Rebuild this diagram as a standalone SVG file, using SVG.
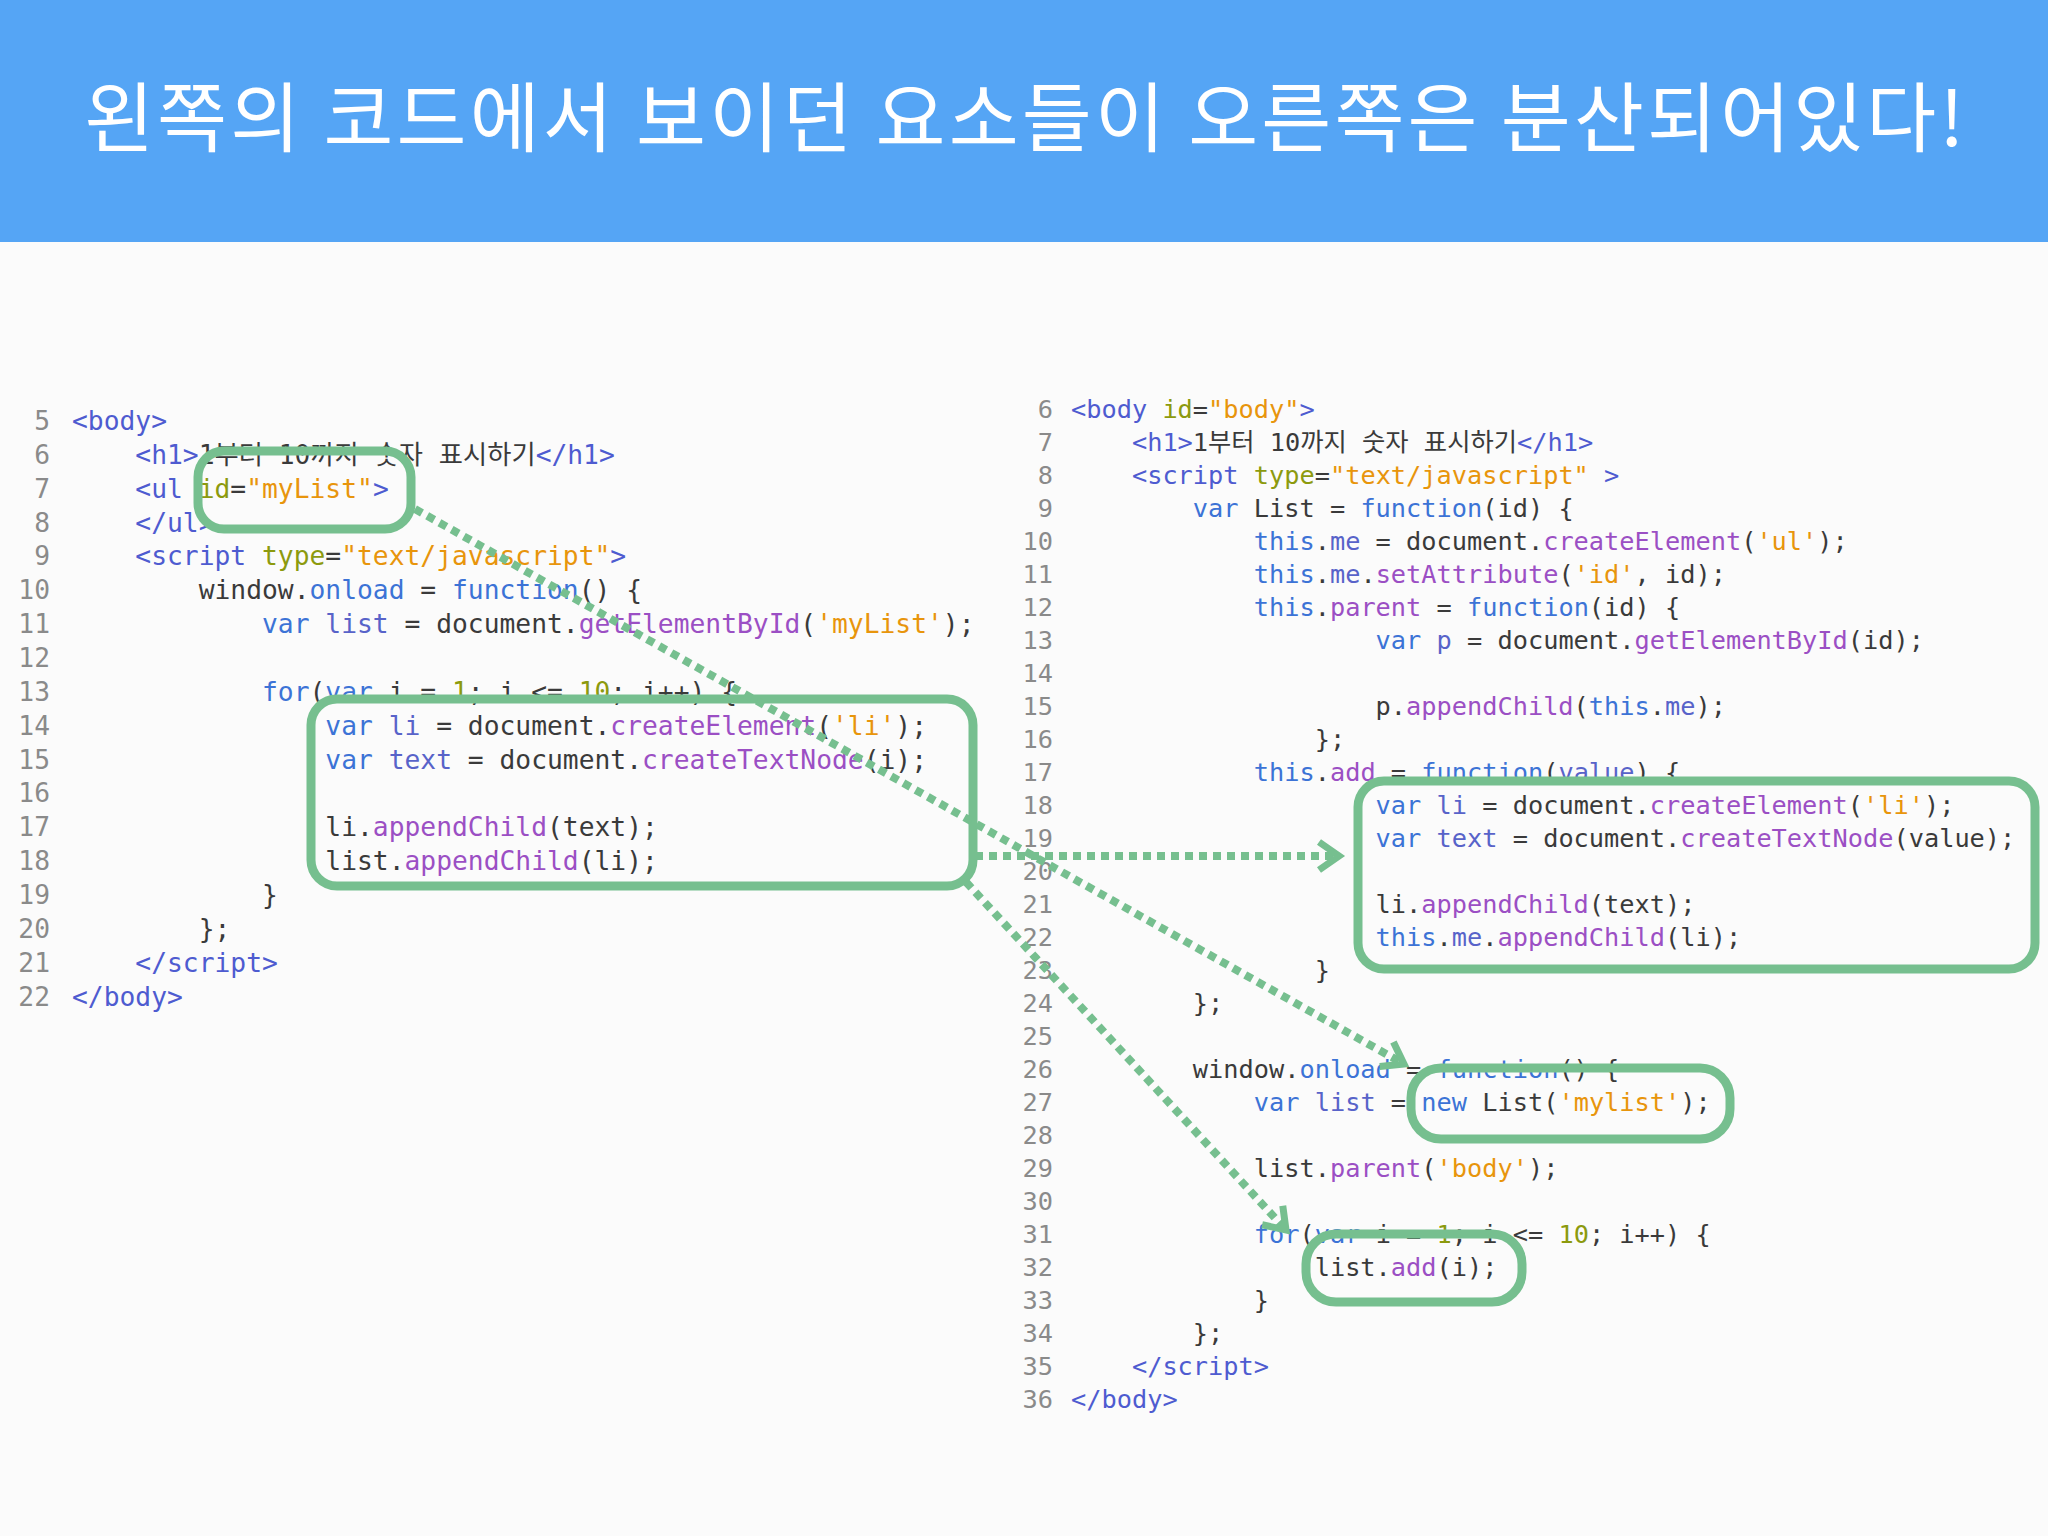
<svg xmlns="http://www.w3.org/2000/svg" width="2048" height="1536" viewBox="0 0 2048 1536">
<style>
.code{font-family:"DejaVu Sans Mono","Noto Sans CJK KR",monospace;fill:#3a3a3a;white-space:pre}
.L{font-size:26.3px}.R{font-size:25.3px}
.ln{font-family:"DejaVu Sans Mono",monospace;fill:#8a8a8a;text-anchor:end}
.t{fill:#4e5bd0}.a{fill:#8c9a0e}.s{fill:#e8950c}.k{fill:#3c73d6}.m{fill:#9b4fc4}.v{fill:#5863c9}.n{fill:#8c9a0e}
.box{fill:none;stroke:#76bf8f;stroke-width:9}
.arr{fill:none;stroke:#76bf8f;stroke-width:8;stroke-dasharray:8 6}
</style>
<defs>
<marker id="ah" markerUnits="userSpaceOnUse" markerWidth="40" markerHeight="40" refX="30" refY="20" orient="auto">
<polyline points="10,6 30,20 10,34" fill="none" stroke="#76bf8f" stroke-width="7"/>
</marker>
</defs>
<rect width="2048" height="1536" fill="#fbfbfb"/>
<g id="header">
<rect width="2048" height="242" fill="#55a5f5"/>
<text x="1024" y="146" text-anchor="middle" textLength="1880" font-family="'Noto Sans CJK KR',sans-serif" font-size="76" fill="#ffffff">왼쪽의 코드에서 보이던 요소들이 오른쪽은 분산되어있다!</text>
</g>
<g id="left-code" xml:space="preserve">
<text class="ln L" x="50" y="430">5</text><text class="code L" x="72" y="430"><tspan class="t">&lt;body&gt;</tspan></text>
<text class="ln L" x="50" y="464">6</text><text class="code L" x="72" y="464">    <tspan class="t">&lt;h1&gt;</tspan>1부터 10까지 숫자 표시하기<tspan class="t">&lt;/h1&gt;</tspan></text>
<text class="ln L" x="50" y="498">7</text><text class="code L" x="72" y="498">    <tspan class="t">&lt;ul</tspan> <tspan class="a">id</tspan>=<tspan class="s">"myList"</tspan><tspan class="t">&gt;</tspan></text>
<text class="ln L" x="50" y="532">8</text><text class="code L" x="72" y="532">    <tspan class="t">&lt;/ul&gt;</tspan></text>
<text class="ln L" x="50" y="565">9</text><text class="code L" x="72" y="565">    <tspan class="t">&lt;script</tspan> <tspan class="a">type</tspan>=<tspan class="s">"text/javascript"</tspan><tspan class="t">&gt;</tspan></text>
<text class="ln L" x="50" y="599">10</text><text class="code L" x="72" y="599">        window.<tspan class="k">onload</tspan> = <tspan class="k">function</tspan>() {</text>
<text class="ln L" x="50" y="633">11</text><text class="code L" x="72" y="633">            <tspan class="k">var</tspan> <tspan class="v">list</tspan> = document.<tspan class="m">getElementById</tspan>(<tspan class="s">'myList'</tspan>);</text>
<text class="ln L" x="50" y="667">12</text>
<text class="ln L" x="50" y="701">13</text><text class="code L" x="72" y="701">            <tspan class="k">for</tspan>(<tspan class="k">var</tspan> i = <tspan class="n">1</tspan>; i &lt;= <tspan class="n">10</tspan>; i++) {</text>
<text class="ln L" x="50" y="735">14</text><text class="code L" x="72" y="735">                <tspan class="k">var</tspan> <tspan class="v">li</tspan> = document.<tspan class="m">createElement</tspan>(<tspan class="s">'li'</tspan>);</text>
<text class="ln L" x="50" y="769">15</text><text class="code L" x="72" y="769">                <tspan class="k">var</tspan> <tspan class="v">text</tspan> = document.<tspan class="m">createTextNode</tspan>(i);</text>
<text class="ln L" x="50" y="802">16</text>
<text class="ln L" x="50" y="836">17</text><text class="code L" x="72" y="836">                li.<tspan class="m">appendChild</tspan>(text);</text>
<text class="ln L" x="50" y="870">18</text><text class="code L" x="72" y="870">                list.<tspan class="m">appendChild</tspan>(li);</text>
<text class="ln L" x="50" y="904">19</text><text class="code L" x="72" y="904">            }</text>
<text class="ln L" x="50" y="938">20</text><text class="code L" x="72" y="938">        };</text>
<text class="ln L" x="50" y="972">21</text><text class="code L" x="72" y="972">    <tspan class="t">&lt;/script&gt;</tspan></text>
<text class="ln L" x="50" y="1006">22</text><text class="code L" x="72" y="1006"><tspan class="t">&lt;/body&gt;</tspan></text>
</g>
<g id="right-code" xml:space="preserve">
<text class="ln R" x="1053" y="418">6</text><text class="code R" x="1071" y="418"><tspan class="t">&lt;body</tspan> <tspan class="a">id</tspan>=<tspan class="s">"body"</tspan><tspan class="t">&gt;</tspan></text>
<text class="ln R" x="1053" y="451">7</text><text class="code R" x="1071" y="451">    <tspan class="t">&lt;h1&gt;</tspan>1부터 10까지 숫자 표시하기<tspan class="t">&lt;/h1&gt;</tspan></text>
<text class="ln R" x="1053" y="484">8</text><text class="code R" x="1071" y="484">    <tspan class="t">&lt;script</tspan> <tspan class="a">type</tspan>=<tspan class="s">"text/javascript"</tspan> <tspan class="t">&gt;</tspan></text>
<text class="ln R" x="1053" y="517">9</text><text class="code R" x="1071" y="517">        <tspan class="k">var</tspan> List = <tspan class="k">function</tspan>(id) {</text>
<text class="ln R" x="1053" y="550">10</text><text class="code R" x="1071" y="550">            <tspan class="k">this</tspan>.<tspan class="v">me</tspan> = document.<tspan class="m">createElement</tspan>(<tspan class="s">'ul'</tspan>);</text>
<text class="ln R" x="1053" y="583">11</text><text class="code R" x="1071" y="583">            <tspan class="k">this</tspan>.<tspan class="v">me</tspan>.<tspan class="m">setAttribute</tspan>(<tspan class="s">'id'</tspan>, id);</text>
<text class="ln R" x="1053" y="616">12</text><text class="code R" x="1071" y="616">            <tspan class="k">this</tspan>.<tspan class="m">parent</tspan> = <tspan class="k">function</tspan>(id) {</text>
<text class="ln R" x="1053" y="649">13</text><text class="code R" x="1071" y="649">                    <tspan class="k">var</tspan> <tspan class="v">p</tspan> = document.<tspan class="m">getElementById</tspan>(id);</text>
<text class="ln R" x="1053" y="682">14</text>
<text class="ln R" x="1053" y="715">15</text><text class="code R" x="1071" y="715">                    p.<tspan class="m">appendChild</tspan>(<tspan class="k">this</tspan>.<tspan class="v">me</tspan>);</text>
<text class="ln R" x="1053" y="748">16</text><text class="code R" x="1071" y="748">                };</text>
<text class="ln R" x="1053" y="781">17</text><text class="code R" x="1071" y="781">            <tspan class="k">this</tspan>.<tspan class="m">add</tspan> = <tspan class="k">function</tspan>(<tspan class="v">value</tspan>) {</text>
<text class="ln R" x="1053" y="814">18</text><text class="code R" x="1071" y="814">                    <tspan class="k">var</tspan> <tspan class="v">li</tspan> = document.<tspan class="m">createElement</tspan>(<tspan class="s">'li'</tspan>);</text>
<text class="ln R" x="1053" y="847">19</text><text class="code R" x="1071" y="847">                    <tspan class="k">var</tspan> <tspan class="v">text</tspan> = document.<tspan class="m">createTextNode</tspan>(value);</text>
<text class="ln R" x="1053" y="880">20</text>
<text class="ln R" x="1053" y="913">21</text><text class="code R" x="1071" y="913">                    li.<tspan class="m">appendChild</tspan>(text);</text>
<text class="ln R" x="1053" y="946">22</text><text class="code R" x="1071" y="946">                    <tspan class="k">this</tspan>.<tspan class="v">me</tspan>.<tspan class="m">appendChild</tspan>(li);</text>
<text class="ln R" x="1053" y="979">23</text><text class="code R" x="1071" y="979">                }</text>
<text class="ln R" x="1053" y="1012">24</text><text class="code R" x="1071" y="1012">        };</text>
<text class="ln R" x="1053" y="1045">25</text>
<text class="ln R" x="1053" y="1078">26</text><text class="code R" x="1071" y="1078">        window.<tspan class="k">onload</tspan> = <tspan class="k">function</tspan>() {</text>
<text class="ln R" x="1053" y="1111">27</text><text class="code R" x="1071" y="1111">            <tspan class="k">var</tspan> <tspan class="v">list</tspan> = <tspan class="k">new</tspan> List(<tspan class="s">'mylist'</tspan>);</text>
<text class="ln R" x="1053" y="1144">28</text>
<text class="ln R" x="1053" y="1177">29</text><text class="code R" x="1071" y="1177">            list.<tspan class="m">parent</tspan>(<tspan class="s">'body'</tspan>);</text>
<text class="ln R" x="1053" y="1210">30</text>
<text class="ln R" x="1053" y="1243">31</text><text class="code R" x="1071" y="1243">            <tspan class="k">for</tspan>(<tspan class="k">var</tspan> i = <tspan class="n">1</tspan>; i &lt;= <tspan class="n">10</tspan>; i++) {</text>
<text class="ln R" x="1053" y="1276">32</text><text class="code R" x="1071" y="1276">                list.<tspan class="m">add</tspan>(i);</text>
<text class="ln R" x="1053" y="1309">33</text><text class="code R" x="1071" y="1309">            }</text>
<text class="ln R" x="1053" y="1342">34</text><text class="code R" x="1071" y="1342">        };</text>
<text class="ln R" x="1053" y="1375">35</text><text class="code R" x="1071" y="1375">    <tspan class="t">&lt;/script&gt;</tspan></text>
<text class="ln R" x="1053" y="1408">36</text><text class="code R" x="1071" y="1408"><tspan class="t">&lt;/body&gt;</tspan></text>
</g>
<g id="box-mylist"><rect class="box" x="198" y="451" width="213" height="78" rx="26"/></g>
<g id="box-loop-left"><rect class="box" x="311" y="699" width="662" height="187" rx="26"/></g>
<g id="box-add"><rect class="box" x="1358" y="781" width="677" height="188" rx="26"/></g>
<g id="box-new-list"><rect class="box" x="1411" y="1068" width="319" height="71" rx="30"/></g>
<g id="box-list-add"><rect class="box" x="1306" y="1234" width="216" height="68" rx="30"/></g>
<g id="connectors">
<line class="arr" x1="415" y1="509" x2="1404" y2="1064" marker-end="url(#ah)"/>
<line class="arr" x1="975" y1="856" x2="1339" y2="856" marker-end="url(#ah)"/>
<line class="arr" x1="966" y1="882" x2="1286" y2="1230" marker-end="url(#ah)"/>
</g>
</svg>
